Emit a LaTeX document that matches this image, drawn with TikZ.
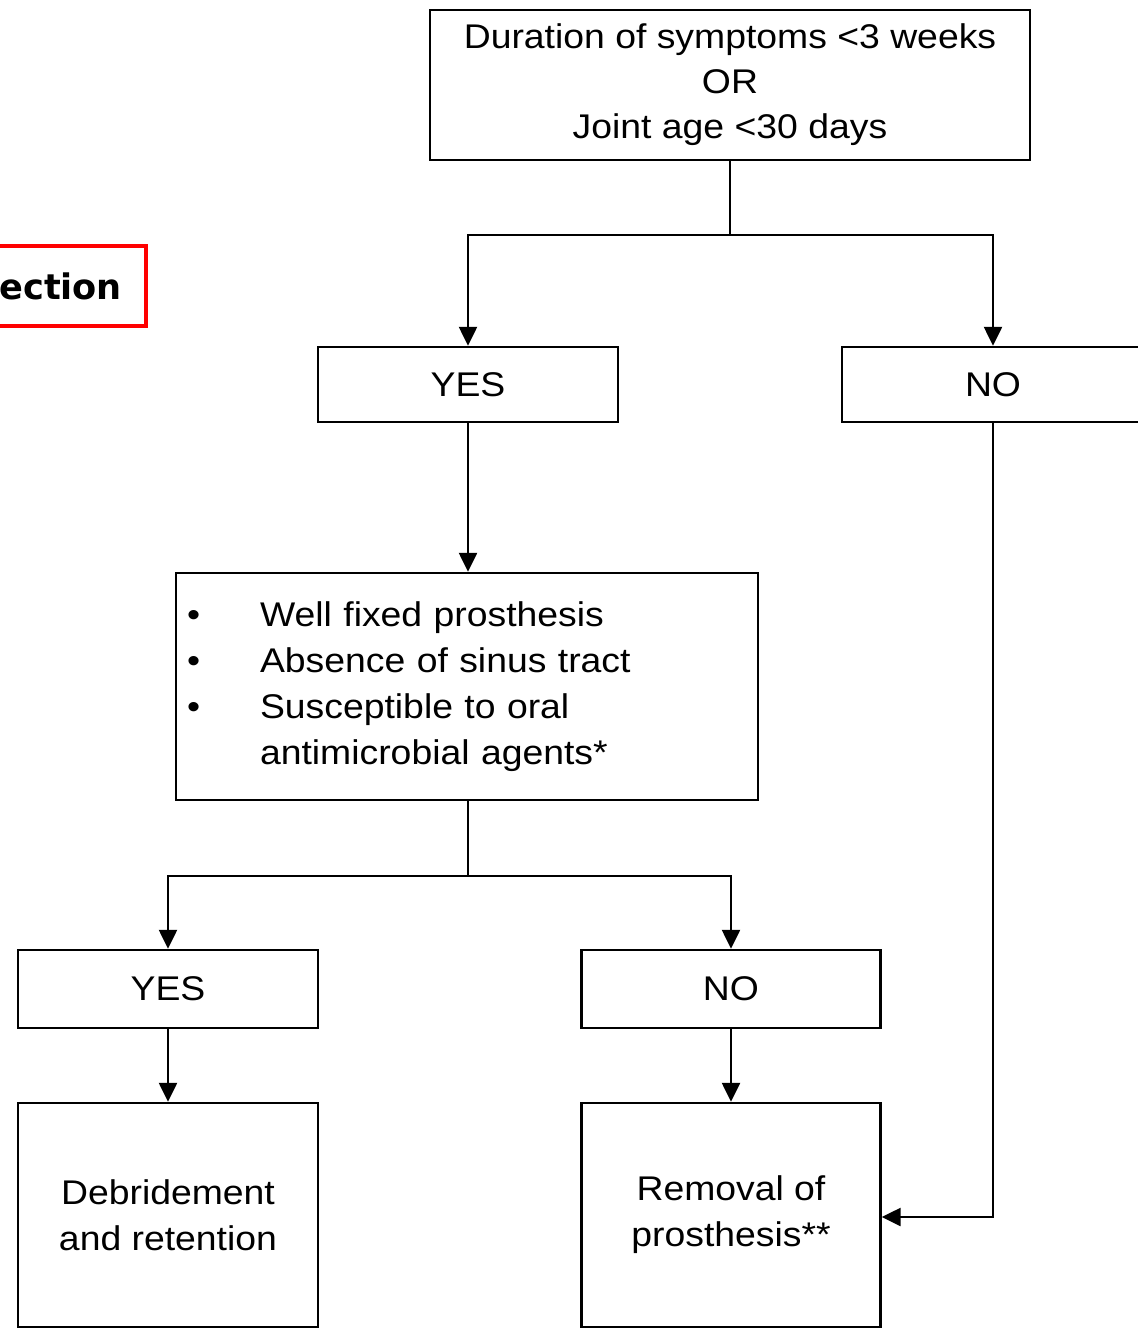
\documentclass[tikz,border=0pt]{standalone}
\usepackage{fontspec}
\setmainfont{Liberation Sans}[FakeStretch=1.09]
\newfontfamily\tagfont{DejaVu Sans}
\usepackage{tikz}
\usetikzlibrary{arrows.meta}
\usetikzlibrary{positioning}

\begin{document}
\begin{tikzpicture}[->,>={Triangle[width=0.36cm,length=0.38cm]},x=0.02cm,y=-0.02cm,
	line width=1.4pt,
	box node/.style={draw,rectangle,inner sep=0pt,align=center,
		font=\fontsize{19.5}{25.6}\selectfont},
	tag node/.style={draw=red,line width=0.08cm,rectangle,inner xsep=0.48cm,
		minimum height=1.6cm,font=\tagfont\bfseries\fontsize{20}{24}\selectfont}]

	\useasboundingbox (0,0) rectangle (1137,1329);

	\node[tag node, anchor=east] (tag) at (148,286) {ection};

	\node[box node, minimum width=12cm, minimum height=3cm] (dur) at (730,85)
		{Duration of symptoms <3 weeks\\OR\\Joint age <30 days};
	\node[box node, minimum width=6cm, minimum height=1.5cm] (yes1) at (468,384.5) {YES};
	\node[box node, minimum width=6.04cm, minimum height=1.5cm] (no1) at (993,384.5) {NO};
	\node[box node, minimum width=11.64cm, minimum height=4.54cm, text width=11.2cm,
		align=left, font=\fontsize{19.5}{26.2}\selectfont] (crit) at (467,686.5)
		{\makebox[1.46cm][l]{\textbullet}Well fixed prosthesis\\
		 \makebox[1.46cm][l]{\textbullet}Absence of sinus tract\\
		 \makebox[1.46cm][l]{\textbullet}Susceptible to oral\\
		 \hspace*{1.46cm}antimicrobial agents*};
	\node[box node, minimum width=6cm, minimum height=1.56cm] (yes2) at (168,989) {YES};
	\node[box node, minimum width=5.98cm, minimum height=1.56cm] (no2) at (731,989) {NO};
	\node[box node, minimum width=6cm, minimum height=4.48cm, font=\fontsize{19.5}{26.2}\selectfont]
		(deb) at (168,1215) {Debridement\\and retention};
	\node[box node, minimum width=5.98cm, minimum height=4.48cm, font=\fontsize{19.5}{26.2}\selectfont]
		(rem) at (731,1215) {Removal of\\prosthesis**};

	\coordinate (split top) at (730,235);
	\coordinate (split mid) at (468,876);

	\draw[-] (dur) -- (split top);
	\draw (split top) -| (yes1);
	\draw (split top) -| (no1);
	\draw (yes1) -- (yes1 |- crit.north);
	\draw[-] (crit.south -| split mid) -- (split mid);
	\draw (split mid) -| (yes2);
	\draw (split mid) -| (no2);
	\draw (yes2) -- (deb);
	\draw (no2) -- (rem);
	\draw (no1) |- ([yshift=-0.04cm]rem.east);
\end{tikzpicture}
\end{document}
